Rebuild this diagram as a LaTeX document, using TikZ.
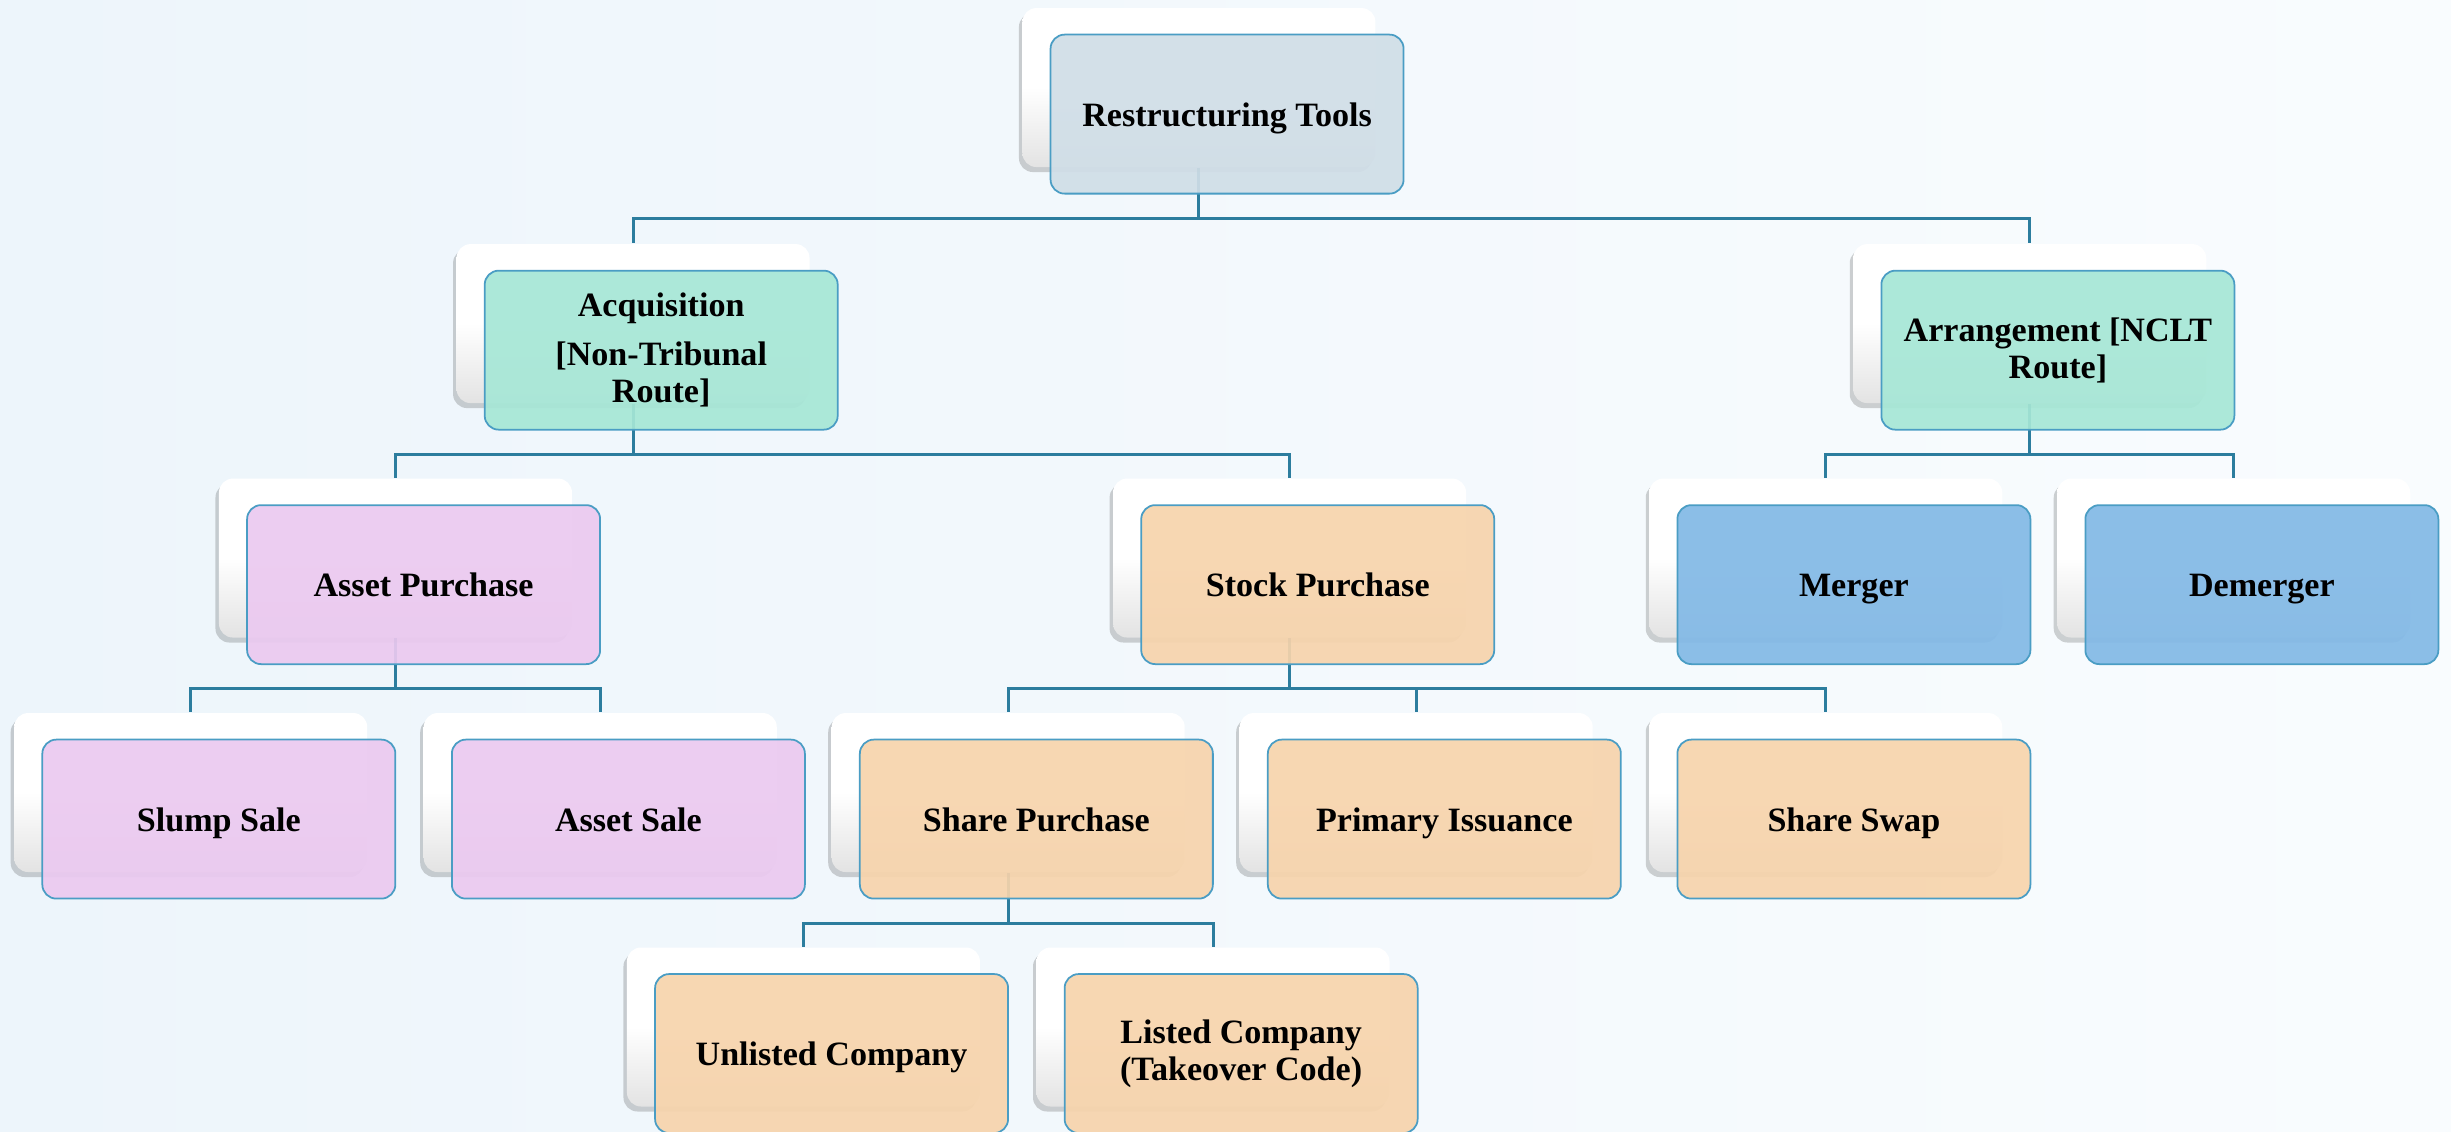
\documentclass[tikz,border=0pt]{standalone}
\usepackage{fontspec}
\setmainfont{Liberation Serif}
\usetikzlibrary{calc,shadows,backgrounds}
\definecolor{bgL}{HTML}{EDF5FB}
\definecolor{bgR}{HTML}{F9FCFE}
\definecolor{edgeC}{HTML}{4A9DC4}
\definecolor{lineC}{HTML}{2C7D9E}
\definecolor{rootC}{HTML}{D0DEE7}
\definecolor{mintC}{HTML}{A6E7D6}
\definecolor{purpC}{HTML}{EBC9F0}
\definecolor{peachC}{HTML}{F7D4AC}
\definecolor{blueC}{HTML}{82B9E6}
\newcommand\lowstrut{\rule[-2pt]{0pt}{11pt}}
\tikzset{
  backbox/.style={rectangle, rounded corners=1.4mm, minimum width=35.3mm, minimum height=15.9mm,
    inner sep=0pt, top color=white, bottom color=black!11, middle color=white,
    drop shadow={shadow xshift=-0.35mm, shadow yshift=-0.5mm, opacity=0.22, fill=black!80}},
  frontbox/.style={rectangle, rounded corners=1.4mm, minimum width=35.3mm, minimum height=15.9mm,
    inner sep=1mm, draw=edgeC, line width=0.5pt, fill opacity=0.92, text opacity=1,
    align=center, font=\fontsize{9.7}{10.5}\selectfont\bfseries},
  conn/.style={draw=lineC, line width=0.85pt},
}
\newcommand\smartbox[5]{%
  \node[backbox] (#1b) at (#2,#3) {};
  \node[frontbox, fill=#4] (#1) at ($(#1b)+(18,17)$) {#5};}
\begin{document}
\begin{tikzpicture}[x=0.15631mm, y=-0.15631mm]
\useasboundingbox (0,0) rectangle (1568,723.6);
\smartbox{root}{767}{56}{rootC}{\lowstrut Restructuring Tools}
\smartbox{acq}{405}{207}{mintC}{Acquisition\\[3.4pt][Non-Tribunal\\Route]}
\smartbox{arr}{1298.5}{207}{mintC}{Arrangement [NCLT\\Route]}
\smartbox{assetp}{253}{357}{purpC}{\lowstrut Asset Purchase}
\smartbox{stock}{825}{357}{peachC}{\lowstrut Stock Purchase}
\smartbox{merger}{1168}{357}{blueC}{\lowstrut Merger}
\smartbox{demerger}{1429}{357}{blueC}{\lowstrut Demerger}
\smartbox{slump}{122}{507}{purpC}{\lowstrut Slump Sale}
\smartbox{assets}{384}{507}{purpC}{\lowstrut Asset Sale}
\smartbox{sharep}{645}{507}{peachC}{\lowstrut Share Purchase}
\smartbox{primary}{906}{507}{peachC}{\lowstrut Primary Issuance}
\smartbox{swap}{1168}{507}{peachC}{\lowstrut Share Swap}
\smartbox{unlisted}{514}{657}{peachC}{\lowstrut Unlisted Company}
\smartbox{listed}{776}{657}{peachC}{Listed Company\\(Takeover Code)}
\begin{scope}[on background layer]
  \fill[left color=bgL, right color=bgR] (0,0) rectangle (1568,723.6);
  \coordinate (j0) at ($(root.south)!0.5!(acqb.north)$);
  \coordinate (j1) at ($(acq.south)!0.5!(assetpb.north)$);
  \coordinate (j2) at ($(arr.south)!0.5!(mergerb.north)$);
  \coordinate (j3) at ($(assetp.south)!0.5!(slumpb.north)$);
  \coordinate (j4) at ($(stock.south)!0.5!(sharepb.north)$);
  \coordinate (j5) at ($(sharep.south)!0.5!(unlistedb.north)$);
  \draw[conn] (rootb.south) -- (rootb.south |- j0) -| (acqb.north);
  \draw[conn] (rootb.south |- j0) -| (arrb.north);
  \draw[conn] (acqb.south) -- (acqb.south |- j1) -| (assetpb.north);
  \draw[conn] (acqb.south |- j1) -| (stockb.north);
  \draw[conn] (arrb.south) -- (arrb.south |- j2) -| (mergerb.north);
  \draw[conn] (arrb.south |- j2) -| (demergerb.north);
  \draw[conn] (assetpb.south) -- (assetpb.south |- j3) -| (slumpb.north);
  \draw[conn] (assetpb.south |- j3) -| (assetsb.north);
  \draw[conn] (stockb.south) -- (stockb.south |- j4) -| (sharepb.north);
  \draw[conn] (stockb.south |- j4) -| (primaryb.north);
  \draw[conn] (stockb.south |- j4) -| (swapb.north);
  \draw[conn] (sharepb.south) -- (sharepb.south |- j5) -| (unlistedb.north);
  \draw[conn] (sharepb.south |- j5) -| (listedb.north);
\end{scope}
\end{tikzpicture}
\end{document}
